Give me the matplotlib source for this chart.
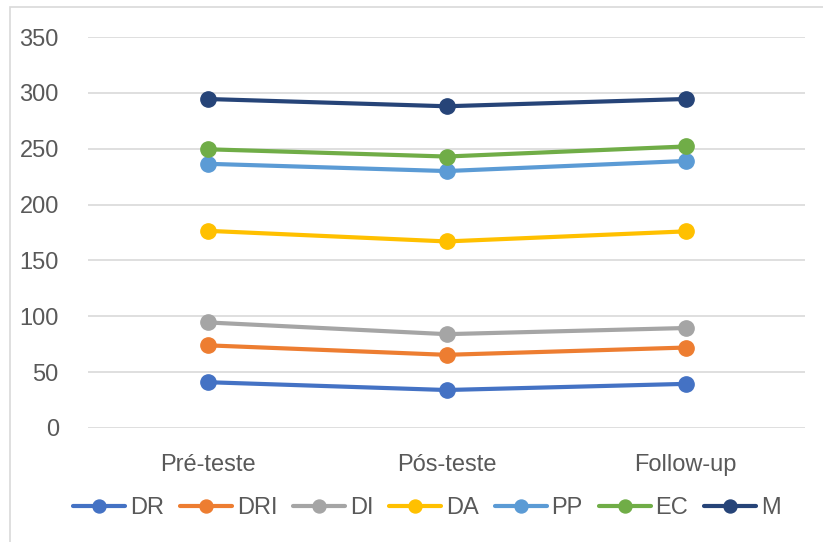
import matplotlib
matplotlib.use("Agg")
import matplotlib.pyplot as plt
from matplotlib.patches import Rectangle

categories = ["Pré-teste", "Pós-teste", "Follow-up"]
series_names = ["DR", "DRI", "DI", "DA", "PP", "EC", "M"]
dr = [41, 34, 39.5]
dri = [74, 65.5, 72]
di = [94.5, 84, 89.5]
da = [176.5, 167, 176]
pp = [236.5, 230, 239]
ec = [249.5, 243, 252]
m = [294.5, 288, 294.5]
colors = ["#4472C4", "#ED7D31", "#A5A5A5", "#FFC000", "#5B9BD5", "#70AD47", "#264478"]
yticks = [0, 50, 100, 150, 200, 250, 300, 350]

plt.rcParams["font.family"] = ["Liberation Sans", "DejaVu Sans"]
W, H = 823, 542
fig = plt.figure(figsize=(W / 100, H / 100), dpi=100)
fig.patch.set_facecolor("white")

# chart frame (cut off at right and bottom like the source)
fig.patches.append(Rectangle((10 / W, -0.05), 1.1, 1.05 - 7 / H, transform=fig.transFigure,
                             fill=False, edgecolor="#d9d9d9", lw=1.2, zorder=0))

ax = fig.add_axes([88 / W, 1 - 428 / H, (805 - 88) / W, (428 - 37) / H])
x = range(len(categories))
for name, vals, c in zip(series_names, [dr, dri, di, da, pp, ec, m], colors):
    ax.plot(x, vals, color=c, lw=3, marker="o", ms=11, label=name,
            solid_capstyle="round", zorder=3)

ax.set_xlim(-0.5, 2.5)
ax.set_ylim(0, 350)
ax.set_yticks(yticks)
ax.set_xticks(list(x))
ax.set_xticklabels(categories)
for s in ax.spines.values():
    s.set_visible(False)
ax.grid(axis="y", color="#d9d9d9", lw=1.2, zorder=0)
ax.tick_params(length=0, labelsize=17, labelcolor="#595959")
ax.tick_params(axis="y", pad=21)
ax.tick_params(axis="x", pad=19)

fig.legend(loc="center", bbox_to_anchor=(427 / W, 1 - 508 / H), ncol=7, frameon=False,
           fontsize=17, labelcolor="#595959", handlelength=2.2, handletextpad=0.2,
           columnspacing=0.68, markerscale=0.85)

fig.savefig("out.png", dpi=100)
